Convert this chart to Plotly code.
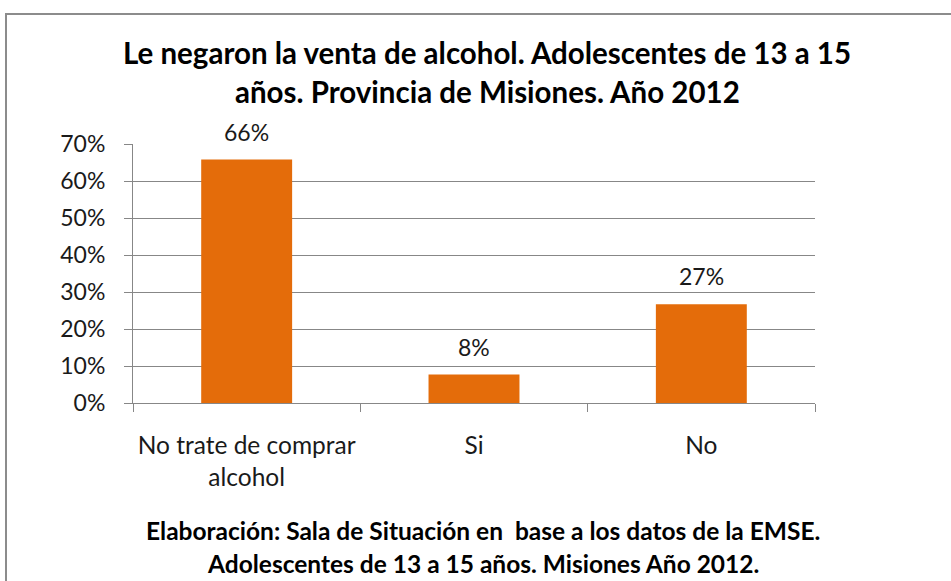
import plotly.graph_objects as go

categories = ["No trate de comprar<br>alcohol", "Si", "No"]
values = [0.658, 0.077, 0.267]
y_ticks = [0, 0.1, 0.2, 0.3, 0.4, 0.5, 0.6, 0.7]
title_lines = ["Le negaron la venta de alcohol. Adolescentes de 13 a 15",
               "años. Provincia de Misiones. Año 2012"]
note_lines = ["Elaboración: Sala de Situación en  base a los datos de la EMSE.",
              "Adolescentes de 13 a 15 años. Misiones Año 2012."]

W, H = 951, 581
L, R, T, B = 133, 815, 144, 403  # plot area in pixels
PW, PH = R - L, B - T

def px(x):
    return (x - L) / PW

def py(y):
    return (B - y) / PH

FONT = "Lato"
ORANGE = "#E46C0A"
GRID = "#878787"
TXT = "#1a1a1a"

fig = go.Figure(go.Bar(
    x=categories, y=values, width=0.4,
    marker=dict(color=ORANGE, line=dict(width=0)),
    hoverinfo="x+y",
))

annotations = []
for c, v in zip(categories, values):
    annotations.append(dict(text="%d%%" % round(v * 100), x=c, y=v, xref="x", yref="y",
                            xanchor="center", yanchor="bottom", yshift=12, showarrow=False,
                            font=dict(family=FONT, size=23, color=TXT)))
for line, yb in zip(title_lines, [63, 102]):
    annotations.append(dict(text="<b>%s</b>" % line, x=px(487), y=py(yb), xref="paper", yref="paper",
                            xanchor="center", yanchor="bottom", yshift=-9, showarrow=False,
                            font=dict(family=FONT, size=29.5, color="#000")))
for line, yb in zip(note_lines, [537, 570]):
    annotations.append(dict(text="<b>%s</b>" % line, x=px(483), y=py(yb), xref="paper", yref="paper",
                            xanchor="center", yanchor="bottom", yshift=-9.5, showarrow=False,
                            font=dict(family=FONT, size=24.5, color="#000")))

fig.update_layout(
    width=W, height=H,
    margin=dict(l=L, r=W - R, t=T, b=H - B, pad=0),
    paper_bgcolor="white", plot_bgcolor="white",
    showlegend=False,
    font=dict(family=FONT, color=TXT),
    annotations=annotations,
    shapes=[dict(type="rect", xref="paper", yref="paper",
                 x0=px(6), x1=px(1000), y0=py(14), y1=py(700),
                 line=dict(color="#8c8c8c", width=2), fillcolor="rgba(0,0,0,0)", layer="below")],
    bargap=0.6,
)
fig.update_yaxes(range=[0, 0.7], tickvals=y_ticks, tickformat=".0%",
                 showgrid=True, gridcolor=GRID, gridwidth=1,
                 showline=True, linecolor=GRID, linewidth=1,
                 ticks="outside", ticklen=8, tickcolor=GRID,
                 ticklabelstandoff=14,
                 tickfont=dict(family=FONT, size=23, color=TXT), zeroline=False, fixedrange=True)
fig.update_xaxes(showline=True, linecolor=GRID, linewidth=1,
                 ticks="outside", ticklen=8, tickcolor=GRID, tickson="boundaries",
                 ticklabelstandoff=21,
                 tickfont=dict(family=FONT, size=24.5, color=TXT), fixedrange=True)

fig.write_html("out.html", config={"displayModeBar": False},
               post_script="document.body.style.margin='0';")
